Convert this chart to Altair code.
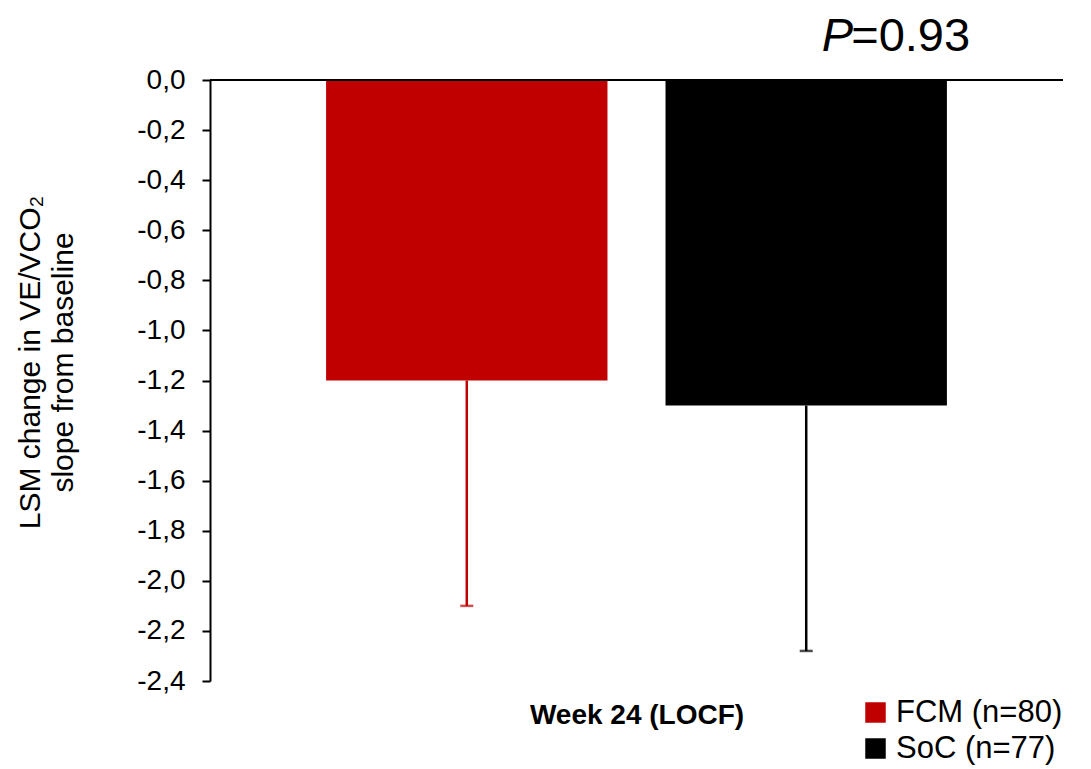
import altair as alt
import pandas as pd

groups = ["FCM (n=80)", "SoC (n=77)"]
values = [-1.20, -1.30]
errors = [0.90, 0.98]
colors = ["#C00000", "#000000"]
y_ticks = [0.0, -0.2, -0.4, -0.6, -0.8, -1.0, -1.2, -1.4, -1.6, -1.8, -2.0, -2.2, -2.4]

df = pd.DataFrame({"group": groups, "value": values, "err": errors})
df["lower"] = df["value"] - df["err"]

x_enc = alt.X("group:N", sort=groups,
              scale=alt.Scale(paddingInner=0.171, paddingOuter=0.342),
              axis=alt.Axis(labels=False, ticks=False, domain=False,
                            title="Week 24 (LOCF)", titleFontSize=28,
                            titleFontWeight="bold", titlePadding=20,
                            titleColor="black", titleFont="Liberation Sans"))

y_scale = alt.Scale(domain=[-2.4, 0], nice=False, zero=False)

color_enc = alt.Color("group:N", sort=groups,
                      scale=alt.Scale(domain=groups, range=colors),
                      legend=alt.Legend(title=None, orient="none", legendX=650, legendY=617,
                                        symbolType="square", symbolSize=420,
                                        symbolStrokeWidth=0, symbolOpacity=1,
                                        labelFontSize=31, labelFont="Liberation Sans",
                                        labelColor="black", labelOffset=5, labelLimit=400,
                                        rowPadding=4, padding=0))

base = alt.Chart(df)

bars = base.mark_bar().encode(
    x=x_enc,
    y=alt.Y("value:Q", scale=y_scale,
            axis=alt.Axis(values=y_ticks, title=["LSM change in VE/VCO₂", "slope from baseline"],
                          labelExpr="replace(replace(format(datum.value, '.1f'), '.', ','), '\u2212', '-')",
                          labelFontSize=28, labelFont="Liberation Sans", labelColor="black",
                          labelPadding=17, tickSize=8, tickColor="black", tickWidth=2,
                          domainColor="black", domainWidth=2, grid=False,
                          titleFontSize=30, titleFont="Liberation Sans", titleFontWeight="normal",
                          titleColor="black", titleLineHeight=33,
                          titleX=-165, titleY=282)),
    color=color_enc,
)

err_rule = base.mark_rule(strokeWidth=2.5).encode(
    x=alt.X("group:N", sort=groups),
    y=alt.Y("value:Q", scale=y_scale),
    y2="lower:Q",
    color=alt.Color("group:N", sort=groups, scale=alt.Scale(domain=groups, range=colors), legend=None),
)

err_cap = base.mark_tick(size=13, thickness=2.5).encode(
    x=alt.X("group:N", sort=groups),
    y=alt.Y("lower:Q", scale=y_scale),
    color=alt.Color("group:N", sort=groups, scale=alt.Scale(domain=groups, range=colors), legend=None),
)

zero_line = alt.Chart(pd.DataFrame({"z": [0.0]})).mark_rule(color="black", strokeWidth=2).encode(
    y=alt.Y("z:Q", scale=y_scale)
)

ann_df = pd.DataFrame({"group": [groups[1]], "z": [0.0]})
p_text = alt.Chart(ann_df).mark_text(text="P", fontStyle="italic", fontSize=47, font="Liberation Sans",
                                      align="right", baseline="alphabetic", dx=47, dy=-29,
                                      color="black").encode(
    x=alt.X("group:N", sort=groups), y=alt.Y("z:Q", scale=y_scale))
val_text = alt.Chart(ann_df).mark_text(text="=0.93", fontSize=47, font="Liberation Sans",
                                        align="left", baseline="alphabetic", dx=45, dy=-29,
                                        color="black").encode(
    x=alt.X("group:N", sort=groups), y=alt.Y("z:Q", scale=y_scale))

chart = alt.layer(bars, err_rule, err_cap, zero_line, p_text, val_text).properties(
    width=853, height=601,
    autosize=alt.AutoSizeParams(type="none"),
    padding={"left": 202, "top": 72, "right": 20, "bottom": 85},
).configure(font="Liberation Sans").configure_view(stroke=None)

chart.save("out.html", embed_options={"renderer": "svg", "actions": False})
